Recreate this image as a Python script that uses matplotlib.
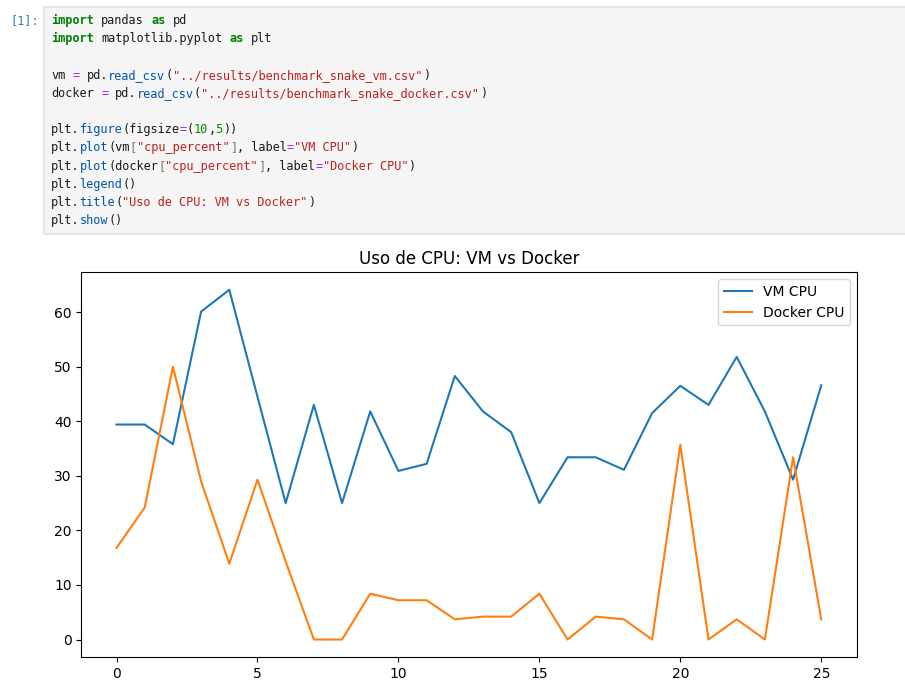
import matplotlib.pyplot as plt
from matplotlib.patches import Rectangle

W, H = 905, 696

# data
steps = list(range(26))
vm_cpu = [39.4, 39.4, 35.8, 60.1, 64.1, 44.5, 25.0, 43.0, 25.0, 41.8,
          30.9, 32.2, 48.3, 41.8, 38.0, 25.0, 33.4, 33.4, 31.1, 41.5,
          46.5, 43.0, 51.8, 41.8, 29.3, 46.6]
docker_cpu = [16.8, 24.2, 50.0, 29.0, 13.9, 29.3, 14.3, 0.0, 0.0, 8.4,
              7.2, 7.2, 3.7, 4.2, 4.2, 8.4, 0.0, 4.2, 3.7, 0.0,
              35.7, 0.0, 3.7, 0.0, 33.4, 3.7]

# notebook code cell, tokenised for highlighting
code_lines = [
    [("import", "kw"), (" pandas ", "p"), ("as", "kw"), (" pd", "p")],
    [("import", "kw"), (" matplotlib.pyplot ", "p"), ("as", "kw"), (" plt", "p")],
    [],
    [("vm ", "p"), ("=", "op"), (" pd.", "p"), ("read_csv", "fn"), ("(", "p"),
     ('"../results/benchmark_snake_vm.csv"', "str"), (")", "p")],
    [("docker ", "p"), ("=", "op"), (" pd.", "p"), ("read_csv", "fn"), ("(", "p"),
     ('"../results/benchmark_snake_docker.csv"', "str"), (")", "p")],
    [],
    [("plt.", "p"), ("figure", "fn"), ("(figsize", "p"), ("=", "op"), ("(", "p"),
     ("10", "num"), (",", "p"), ("5", "num"), ("))", "p")],
    [("plt.", "p"), ("plot", "fn"), ("(vm", "p"), ("[", "br"), ('"cpu_percent"', "str"),
     ("]", "br"), (", label", "p"), ("=", "op"), ('"VM CPU"', "str"), (")", "p")],
    [("plt.", "p"), ("plot", "fn"), ("(docker", "p"), ("[", "br"), ('"cpu_percent"', "str"),
     ("]", "br"), (", label", "p"), ("=", "op"), ('"Docker CPU"', "str"), (")", "p")],
    [("plt.", "p"), ("legend", "fn"), ("()", "p")],
    [("plt.", "p"), ("title", "fn"), ("(", "p"), ('"Uso de CPU: VM vs Docker"', "str"), (")", "p")],
    [("plt.", "p"), ("show", "fn"), ("()", "p")],
]

styles = {
    "p": ("#1a1a1a", "normal"),
    "kw": ("#008000", "bold"),
    "fn": ("#0055aa", "normal"),
    "str": ("#ba2121", "normal"),
    "num": ("#008800", "normal"),
    "op": ("#aa22ff", "normal"),
    "br": ("#777777", "normal"),
}

fig = plt.figure(figsize=(W / 100, H / 100), dpi=100)
renderer = fig.canvas.get_renderer()


def fx(px):
    return px / W


def fy(py):
    return 1 - py / H


# cell box
fig.patches.append(Rectangle((fx(44), fy(234)), fx(W - 44 + 5), (234 - 7) / H,
                             transform=fig.transFigure, facecolor="#f5f5f5",
                             edgecolor="#e0e0e0", linewidth=1.2, zorder=0))

char_w = 7.15  # px per monospace char
fs = char_w * 72 / (100 * 0.6021)
mono = "DejaVu Sans Mono"


def left_bearing(tok, weight):
    # matplotlib left-aligns on ink, so find how far the ink sits right of the pen
    a = fig.text(0, 0, tok, family=mono, fontsize=fs, fontweight=weight)
    b = fig.text(0, 0, " " + tok, family=mono, fontsize=fs, fontweight=weight)
    wa = a.get_window_extent(renderer).width
    wb = b.get_window_extent(renderer).width
    a.remove()
    b.remove()
    return wb - char_w - wa


fig.text(fx(10 + left_bearing("[1]:", "normal")), fy(24), "[1]:", family=mono,
         fontsize=fs, color="#307fc1", va="baseline", ha="left")

x0, y0, dy = 51, 24, 18.2
for i, line in enumerate(code_lines):
    col = 0
    for tok, st in line:
        color, weight = styles[st]
        word = tok.strip()
        start = col + len(tok) - len(tok.lstrip())
        col += len(tok)
        if not word:
            continue
        px = x0 + start * char_w + left_bearing(word, weight)
        fig.text(fx(px), fy(y0 + i * dy), word, family=mono, fontsize=fs,
                 color=color, fontweight=weight, va="baseline", ha="left")

# the chart
ax = fig.add_axes([fx(81.3), fy(657), (856.5 - 81.3) / W, (657 - 272.3) / H])
ax.plot(steps, vm_cpu, label="VM CPU")
ax.plot(steps, docker_cpu, label="Docker CPU")
ax.legend()
ax.set_title("Uso de CPU: VM vs Docker")

fig.savefig("out.png", dpi=100)
